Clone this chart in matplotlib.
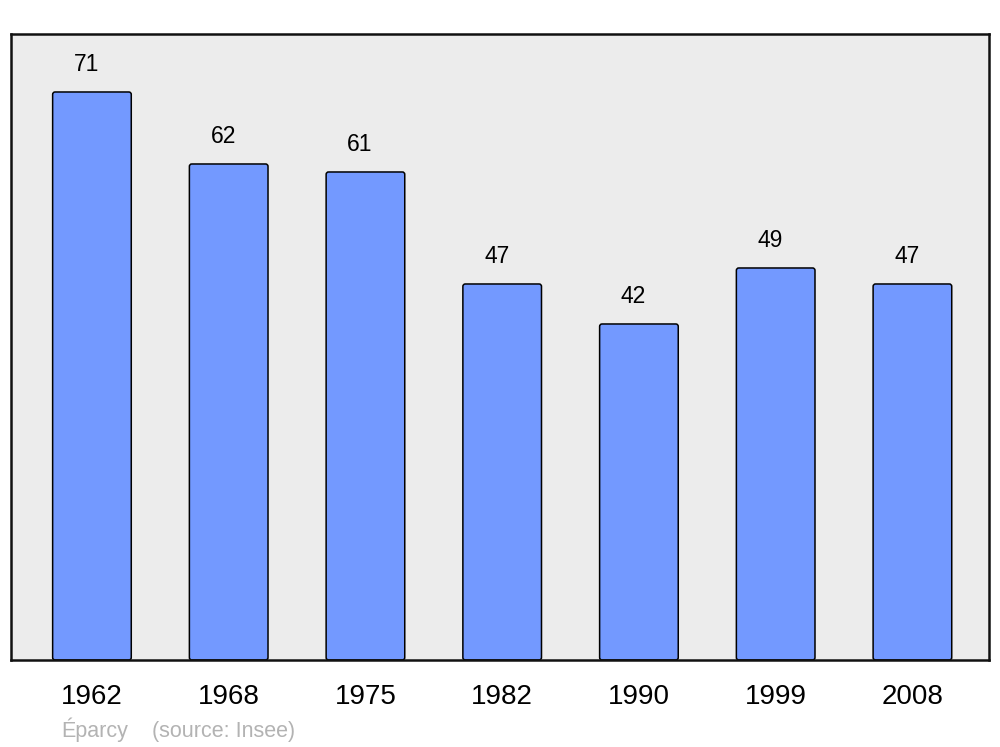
import matplotlib
matplotlib.use("Agg")
import matplotlib.pyplot as plt
from matplotlib.patches import FancyBboxPatch

years = ["1962", "1968", "1975", "1982", "1990", "1999", "2008"]
population = [71, 62, 61, 47, 42, 49, 47]
commune = "Éparcy"
source = "(source: Insee)"

plt.rcParams['font.family'] = ['Liberation Sans', 'DejaVu Sans']

fig = plt.figure(figsize=(10, 7.47), dpi=100)
ax = fig.add_axes([0.011, 0.1165, 0.978, 0.838])
ax.set_facecolor('#ececec')

x = list(range(len(years)))
bars = ax.bar(x, population, width=0.575, color='#7399ff', edgecolor='black', linewidth=1.1)

# rounded corners for bars
for b in bars:
    b.set_visible(False)
    p = FancyBboxPatch((b.get_x(), b.get_y()), b.get_width(), b.get_height(),
                       boxstyle="round,pad=0,rounding_size=0.018",
                       mutation_aspect=17.1,
                       facecolor='#7399ff', edgecolor='black', linewidth=1.1, zorder=2)
    ax.add_patch(p)

for xi, v in zip(x, population):
    ax.annotate(str(v), (xi, v), xytext=(-4, 19.5), textcoords='offset points',
                ha='center', va='center', fontsize=16.5, color='black')

ax.set_xlim(-0.592, 6.56)
ax.set_ylim(0, 78.25)
ax.set_xticks(x)
ax.set_xticklabels(years, fontsize=20)
for lbl in ax.get_xticklabels():
    lbl.set_x(lbl.get_position()[0])
ax.tick_params(axis='x', length=0, pad=17)
ax.set_yticks([])
for s in ax.spines.values():
    s.set_linewidth(1.8)
    s.set_color('#111111')

fig.text(0.061, 0.013, commune, fontsize=15.5, color='#b3b3b3', ha='left', va='baseline')
fig.text(0.152, 0.013, source, fontsize=15.5, color='#b3b3b3', ha='left', va='baseline')

fig.savefig('out.png', dpi=100, facecolor='white')
